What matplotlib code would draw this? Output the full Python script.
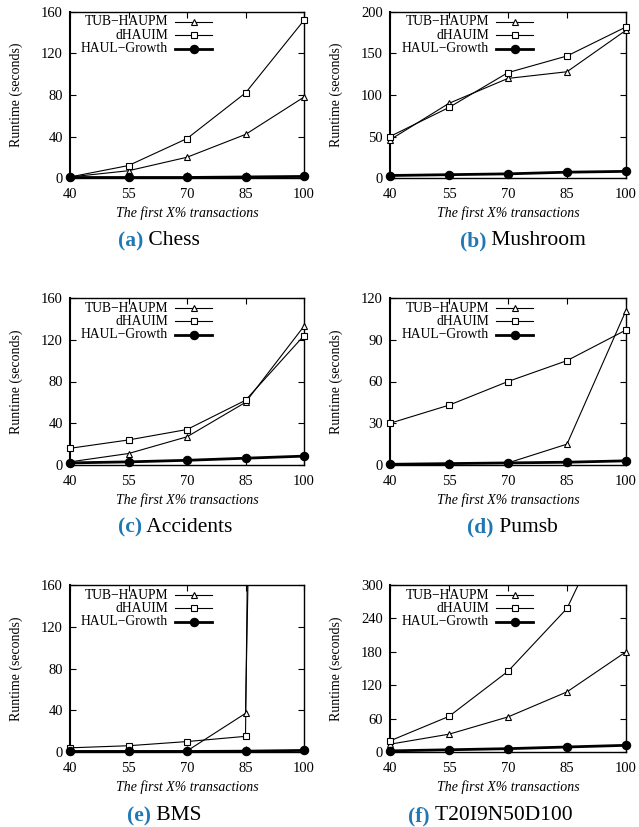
import numpy as np
import matplotlib
matplotlib.use("Agg")
import matplotlib.pyplot as plt

plt.rcParams['font.family'] = ['Liberation Serif', 'DejaVu Serif']

x = [40, 55, 70, 85, 100]
names = ["TUB\u2212HAUPM", "dHAUIM", "HAUL\u2212Growth"]

# runtime values (seconds)
chess_tub = [1, 7, 20, 42, 78]
chess_dha = [1, 12, 38, 82, 152]
chess_haul = [0.5, 0.5, 0.5, 1, 1.5]

mush_tub = [46, 90, 120, 128, 178]
mush_dha = [50, 85, 127, 147, 182]
mush_haul = [3, 4, 5, 7, 8]

acc_tub = [3, 11, 27, 60, 133]
acc_dha = [16, 24, 34, 62, 124]
acc_haul = [2, 3, 4.5, 6.5, 8.5]

pumsb_tub = [0.5, 1, 1.5, 15, 111]
pumsb_dha = [30, 43, 60, 75, 97]
pumsb_haul = [0.5, 1, 1.5, 2, 3]

bms_tub = [1, 1, 1, 37, 3000]
bms_dha = [4, 6, 10, 15, 5000]
bms_haul = [0.5, 0.5, 0.5, 0.8, 1.5]

t20_tub = [14, 32, 63, 108, 180]
t20_dha = [20, 64, 145, 258, 480]
t20_haul = [2, 4, 6, 9, 12]

panels = [
    ("(a)", "Chess", chess_tub, chess_dha, chess_haul, 160, 40),
    ("(b)", "Mushroom", mush_tub, mush_dha, mush_haul, 200, 50),
    ("(c)", "Accidents", acc_tub, acc_dha, acc_haul, 160, 40),
    ("(d)", "Pumsb", pumsb_tub, pumsb_dha, pumsb_haul, 120, 30),
    ("(e)", "BMS", bms_tub, bms_dha, bms_haul, 160, 40),
    ("(f)", "T20I9N50D100", t20_tub, t20_dha, t20_haul, 300, 60),
]

W, H = 639, 827
fig = plt.figure(figsize=(W / 100, H / 100), dpi=100)

# pixel boxes (left, right) / (top, bottom) of the axes, and caption anchors
cols = [(70, 304), (390, 626)]
rows = [(12, 178), (298, 465), (585, 752)]
cap_x = [118, 460, 118, 467, 127, 408]
cap_y = [241, 241, 527, 527, 816, 816]

styles = [
    dict(marker="^", ms=4, mfc="white", mec="black", mew=0.8, lw=0.8),
    dict(marker="s", ms=4.8, mfc="white", mec="black", mew=0.8, lw=0.8),
    dict(marker="o", ms=6, mfc="black", mec="black", mew=0.8, lw=2.0),
]

for i, (tag, title, tub, dha, haul, ymax, ystep) in enumerate(panels):
    l, r = cols[i % 2]
    t, b = rows[i // 2]
    ax = fig.add_axes([l / W, 1 - b / H, (r - l) / W, (b - t) / H])

    for ys, st in zip([tub, dha, haul], styles):
        ys = np.array(ys, dtype=float)
        ax.plot(x, ys, color="black", lw=st["lw"], zorder=2)
        inside = ys <= ymax
        ax.plot(np.array(x)[inside], ys[inside], ls="none", marker=st["marker"],
                ms=st["ms"], mfc=st["mfc"], mec=st["mec"], mew=st["mew"],
                clip_on=False, zorder=3)

    ax.set_xlim(40, 100)
    ax.set_ylim(0, ymax)
    ax.set_xticks(x)
    ax.set_yticks(np.arange(0, ymax + 1, ystep))
    ax.tick_params(direction="in", length=4, width=0.8, top=True, right=True,
                   labelsize=10.5)
    ax.tick_params(axis="x", pad=7)
    ax.tick_params(axis="y", pad=5)
    for s in ax.spines.values():
        s.set_linewidth(1.0)
    ax.spines["left"].set_linewidth(1.5)
    ax.set_xlabel("The first X% transactions", style="italic", fontsize=10)
    ax.set_ylabel("Runtime (seconds)", fontsize=10)
    ax.xaxis.set_label_coords(0.5, -0.17)
    ax.yaxis.set_label_coords(-0.2, 0.5)

    # gnuplot style key: right aligned text, line sample to the right
    for k, (nm, st) in enumerate(zip(names, styles)):
        yy = 0.94 - k * 0.08
        ax.text(0.42, yy, nm, transform=ax.transAxes, ha="right", va="center",
                fontsize=9.8)
        ax.plot([0.45, 0.607], [yy, yy], transform=ax.transAxes, color="black",
                lw=st["lw"], clip_on=False)
        ax.plot([0.528], [yy], transform=ax.transAxes, ls="none", marker=st["marker"],
                ms=st["ms"], mfc=st["mfc"], mec=st["mec"], mew=st["mew"], clip_on=False)

    t1 = fig.text(cap_x[i] / W, 1 - cap_y[i] / H, tag, fontsize=15.5, fontweight="bold",
                  color="#1f78b4", ha="left", va="center")
    ax.annotate(" " + title, xy=(1, 0.5), xycoords=t1, ha="left", va="center",
                fontsize=15.5, color="black", annotation_clip=False)

fig.savefig("out.png", dpi=100)
